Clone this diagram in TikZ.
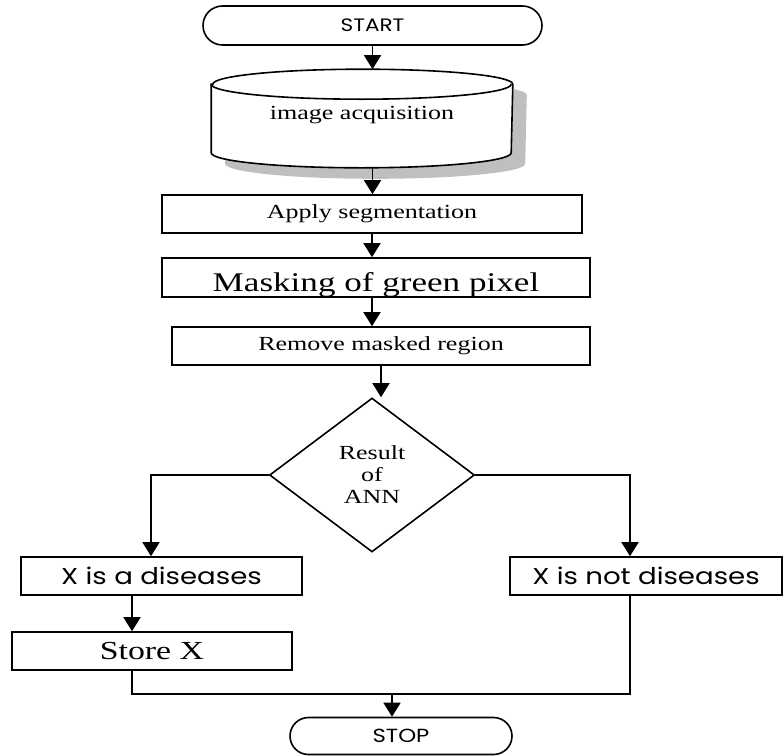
\documentclass[tikz,border=0pt]{standalone}
\usepackage{fontspec}
\setmainfont{Liberation Serif}[FakeStretch=1.3]
\newfontfamily\gothic{Poppins}[FakeStretch=1.2]
\usetikzlibrary{shapes.geometric,shapes.misc,arrows.meta,positioning}

\begin{document}
\begin{tikzpicture}[
    x=1pt, y=-1pt,
    line width=1.6pt,
    procbox/.style={rectangle, draw=black, minimum height=38pt, inner sep=0pt,
                    font=\fontsize{20}{24}\selectfont},
    termbox/.style={rounded rectangle, draw=black, minimum height=38pt, inner sep=0pt,
                    font=\gothic\fontsize{18}{22}\selectfont},
    classbox/.style={procbox, font=\gothic\fontsize{23}{28}\selectfont},
    dbbox/.style={rectangle, minimum width=300pt, minimum height=97pt, inner sep=0pt,
                  font=\fontsize{20}{24}\selectfont},
    cylrim/.style={x radius=150pt, y radius=15pt},
    decision/.style={diamond, draw=black, aspect=1.33, minimum width=205pt, minimum height=154pt,
                     inner sep=0pt, align=center, font=\fontsize{20}{22}\selectfont},
    arr/.style={-{Triangle[length=14pt,width=17pt]}}
]
\useasboundingbox (0,0) rectangle (783,755);

% ---- Main column ----
\node[termbox, minimum width=339pt, minimum height=39pt] (start) at (372.5,25.5) {START};

% image acquisition drum (drawn round an invisible box)
\node[dbbox] (acq) at (362,118.5) {};
\begin{scope}[transform canvas={xshift=14pt, yshift=-11pt}]
  \fill[black!25] ([yshift=-15pt]acq.north west) -- ([yshift=15pt]acq.south west)
    arc[start angle=180, end angle=360, cylrim] -- ([yshift=-15pt]acq.north east)
    arc[start angle=0, end angle=180, cylrim] -- cycle;
\end{scope}
\draw[fill=white] ([yshift=-15pt]acq.north west) -- ([yshift=15pt]acq.south west)
    arc[start angle=180, end angle=360, cylrim] -- ([yshift=-15pt]acq.north east)
    arc[start angle=0, end angle=180, cylrim] -- cycle;
\draw ([yshift=-15pt]acq.north west) arc[start angle=180, end angle=360, cylrim];
\node[font=\fontsize{20}{24}\selectfont] (acqtxt) at (362,115) {image acquisition};

\node[procbox, minimum width=420pt] (seg) at (372,214) {Apply segmentation};
\node[procbox, minimum width=428pt, minimum height=39pt,
      path picture={\node[anchor=base, inner sep=0pt] at ([yshift=-13.5pt]path picture bounding box.center)
                    {\fontsize{27}{30}\selectfont Masking of green pixel};}] (mask) at (376,277.5) {};
\node[procbox, minimum width=418pt] (remove) at (381,346) {Remove masked region};
\node[decision] (ann) at (372,475) {Result\\of\\ANN};

\draw[arr] (start.south) -- (start.south |- acq.north);
\draw[arr] (start.south |- acq.south) -- (start.south |- seg.north);
\draw[arr] (seg.south) -- (seg.south |- mask.north);
\draw[arr] (seg.south |- mask.south) -- (seg.south |- remove.north);
\draw[arr] (remove.south) -- (remove.south |- ann.north);

% ---- Outcomes ----
\node[classbox, minimum width=281pt] (yes) at (161.5,576) {X is a diseases};
\node[classbox, minimum width=272pt] (no) at (646,576) {X is not diseases};
\node[procbox, minimum width=280pt, font=\fontsize{26}{30}\selectfont] (store) at (152,651) {Store X};
\node[termbox, minimum width=222pt, minimum height=37pt, font=\gothic\fontsize{19}{22}\selectfont] (stop) at (401,736) {STOP};

\coordinate (lcol) at (151,0);
\coordinate (rcol) at (630,0);
\coordinate (scol) at (132,0);
\coordinate (merge) at (392,694);

\draw[arr] (ann.west) -| (lcol |- yes.north);
\draw[arr] (ann.east) -| (rcol |- no.north);
\draw[arr] (scol |- yes.south) -- (scol |- store.north);
\draw (scol |- store.south) |- (merge) -| (rcol |- no.south);
\draw[arr] (merge) -- (merge |- stop.north);

\end{tikzpicture}
\end{document}
